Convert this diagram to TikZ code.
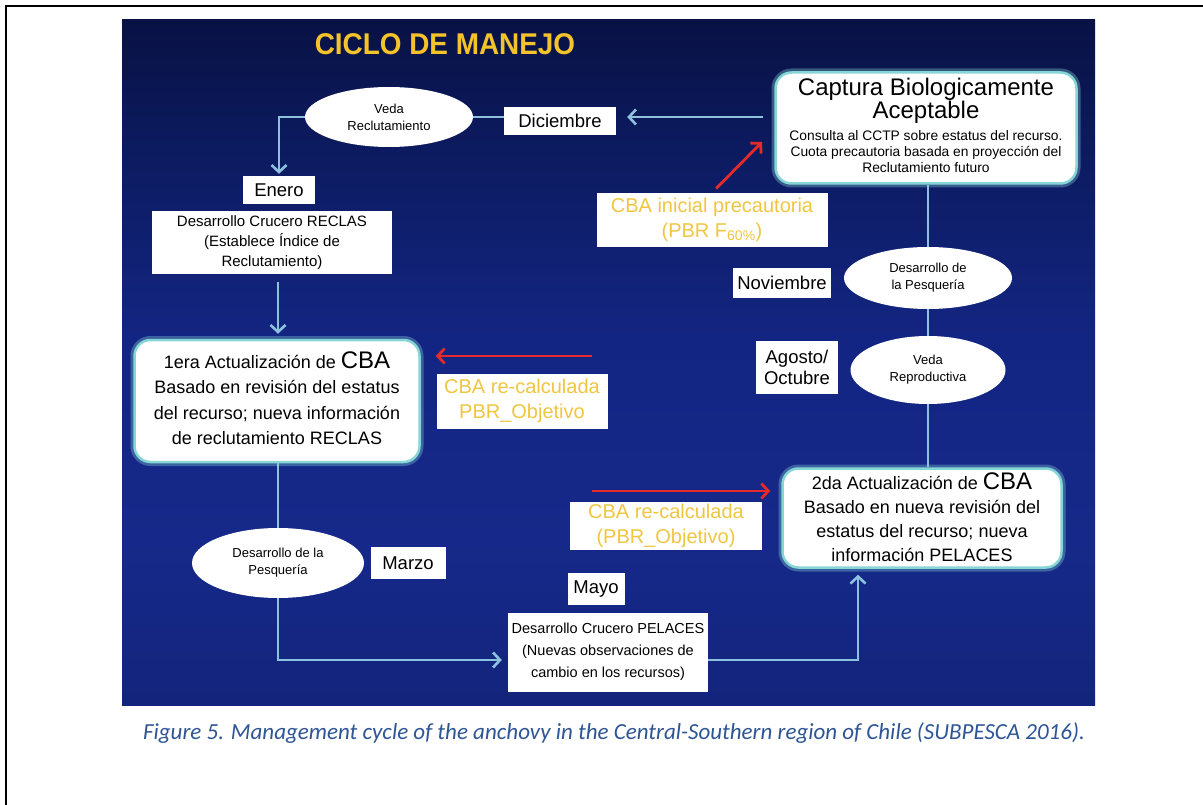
\documentclass[tikz,border=0pt]{standalone}
\usepackage{fontspec}
\setmainfont{Liberation Sans}
\newfontfamily\captionfont{Carlito}
\newfontfamily\headfont[FakeStretch=0.93]{Liberation Sans}
\usetikzlibrary{arrows.meta,shapes.geometric}

\definecolor{flowblue}{HTML}{8DC2DF}
\definecolor{alertred}{HTML}{E42A2A}
\definecolor{titlegold}{HTML}{F4C22B}
\definecolor{notegold}{HTML}{F0C640}
\definecolor{glowteal}{HTML}{86D6D6}
\definecolor{captionblue}{HTML}{2E5595}
\definecolor{panelA}{HTML}{0B1858}
\definecolor{panelB}{HTML}{102070}
\definecolor{panelC}{HTML}{16298A}
\definecolor{panelD}{HTML}{132582}
\definecolor{panelE}{HTML}{0C1A5E}
\definecolor{panelF}{HTML}{060C33}
\definecolor{panelG}{HTML}{010210}
\pgfdeclareverticalshading{panelshade}{100bp}{color(0bp)=(panelA); color(15bp)=(panelB); color(37bp)=(panelC); color(52bp)=(panelD); color(66bp)=(panelE); color(81bp)=(panelF); color(94bp)=(panelG); color(100bp)=(black)}

\tikzset{
  month/.style={fill=white, inner sep=0pt, align=center, font=\fontsize{18.5}{21}\selectfont},
  phase/.style={ellipse, fill=white, inner sep=0pt, align=center, font=\fontsize{13}{17}\selectfont},
  cruise/.style={fill=white, inner sep=0pt, align=center, font=\fontsize{15}{20}\selectfont},
  update/.style={rounded corners=16pt, fill=white, draw=glowteal, line width=2.5pt, inner sep=0pt,
    preaction={draw=glowteal, line width=8pt, draw opacity=0.35}},
  note/.style={fill=white, inner sep=0pt, align=center, text=notegold, font=\fontsize{20}{25}\selectfont},
  flowline/.style={draw=flowblue, line width=2.6pt},
  flowarrow/.style={flowline, -{Straight Barb[length=7pt,width=15pt]}},
  redarrow/.style={draw=alertred, line width=2.8pt, -{Straight Barb[length=7pt,width=15pt]}}
}

\begin{document}
\begin{tikzpicture}[x=1pt,y=-1pt]
\useasboundingbox (0,0) rectangle (1203,805);
\fill[white] (0,0) rectangle (1203,805);
% page frame
\draw[line width=2.5pt] (6,805) -- (6,6) -- (1203,6);
% slide background
\shade[shading=panelshade] (122,20) rectangle (1095,705);

% column guides
\coordinate (lcol) at (278,0);
\coordinate (rcol) at (928,0);
\coordinate (lowline) at (0,660);
\coordinate (upx) at (858,0);

\node[font=\headfont\bfseries\fontsize{30}{32}\selectfont, text=titlegold] (title) at (445,44) {CICLO DE MANEJO};

% left column
\node[phase, minimum width=168pt, minimum height=60pt] (vedaRec) at (389,117) {Veda\\Reclutamiento};
\node[month, minimum width=112pt, minimum height=28pt] (dic) at (560,121) {Diciembre};
\node[month, minimum width=72pt, minimum height=28pt] (enero) at (279,190) {Enero};
\node[cruise, minimum width=240pt, minimum height=63pt] (reclas) at (272,243)
  {Desarrollo Crucero RECLAS\\(Establece Índice de\\Reclutamiento)};
\node[update, minimum width=285pt, minimum height=122pt] (upd1) at (277,401) {};
\node[align=center, font=\fontsize{18}{25.5}\selectfont] (upd1txt) at (277,398)
  {1era Actualización de {\fontsize{24}{25}\selectfont CBA}\\Basado en revisión del estatus\\del recurso; nueva información\\de reclutamiento RECLAS};
\node[note, minimum width=171pt, minimum height=55pt] (note1) at (522,401) {CBA re-calculada\\PBR\_Objetivo};
\node[phase, minimum width=172pt, minimum height=70pt] (pesqL) at (278,563) {Desarrollo de la\\Pesquería};
\node[month, minimum width=75pt, minimum height=32pt] (marzo) at (408,563) {Marzo};
\node[month, minimum width=57pt, minimum height=32pt] (mayo) at (596,589) {Mayo};
\node[cruise, minimum width=200pt, minimum height=79pt, font=\fontsize{14.5}{22}\selectfont] (pelaces) at (608,652)
  {Desarrollo Crucero PELACES\\(Nuevas observaciones de\\cambio en los recursos)};

% right column
\node[update, minimum width=301pt, minimum height=111pt] (cba) at (926,128) {};
\node[align=center, font=\fontsize{24}{23}\selectfont] (cbatitle) at (926,101) {Captura Biologicamente\\Aceptable};
\node[align=center, font=\fontsize{13.8}{16}\selectfont] (cbatxt) at (926,152)
  {Consulta al CCTP sobre estatus del recurso.\\Cuota precautoria basada en proyección del\\Reclutamiento futuro};
\node[note, minimum width=231pt, minimum height=54pt] (note3) at (712,220)
  {CBA inicial precautoria\\(PBR F\textsubscript{60\%})};
\node[phase, minimum width=168pt, minimum height=62pt] (pesqR) at (928,278) {Desarrollo de\\la Pesquería};
\node[month, minimum width=98pt, minimum height=30pt] (nov) at (782,283) {Noviembre};
\node[phase, minimum width=155pt, minimum height=68pt] (vedaRep) at (928,370) {Veda\\Reproductiva};
\node[month, minimum width=82pt, minimum height=53pt] (agosto) at (797,367) {Agosto/\\Octubre};
\node[update, minimum width=279pt, minimum height=99pt] (upd2) at (922,518) {};
\node[align=center, font=\fontsize{18}{24}\selectfont] (upd2txt) at (922,517)
  {2da Actualización de {\fontsize{24}{24}\selectfont CBA}\\Basado en nueva revisión del\\estatus del recurso; nueva\\información PELACES};
\node[note, minimum width=192pt, minimum height=48pt] (note2) at (666,526) {CBA re-calculada\\(PBR\_Objetivo)};

% flow connectors
\draw[flowarrow, shorten >=2pt] (vedaRec.west) -| (enero.north);
\draw[flowline] (vedaRec.east) -- (vedaRec.east -| dic.west);
\draw[flowarrow, shorten <=11pt, shorten >=11pt] (cba.west |- vedaRec.east) -- (dic.east |- vedaRec.east);
\draw[flowarrow, shorten <=7pt, shorten >=5pt] (reclas.south -| lcol) -- (upd1.north -| lcol);
\draw[flowline] (upd1.south -| lcol) -- (pesqL.north);
\draw[flowarrow, shorten >=6pt] (pesqL.south) |- (pelaces.west |- lowline);
\draw[flowarrow, shorten >=6pt] (pelaces.east |- lowline) -| (upd2.south -| upx);
\draw[flowline] (cba.south -| rcol) -- (pesqR.north);
\draw[flowline] (pesqR.south) -- (vedaRep.north);
\draw[flowline] (vedaRep.south) -- (upd2.north -| rcol);

% recalculation inputs
\coordinate (r1s) at (592,356);
\coordinate (r2s) at (592,491);
\coordinate (r3e) at (762,142);
\draw[redarrow, shorten >=15pt] (r1s) -- (r1s -| upd1.east);
\draw[redarrow, shorten >=11pt] (r2s) -- (r2s -| upd2.west);
\draw[redarrow, shorten <=6pt] (note3.north) -- (r3e);

\node[font=\captionfont\itshape\fontsize{23}{26}\selectfont, text=captionblue] (caption) at (614,733)
  {Figure 5. Management cycle of the anchovy in the Central-Southern region of Chile (SUBPESCA 2016).};
\end{tikzpicture}
\end{document}
